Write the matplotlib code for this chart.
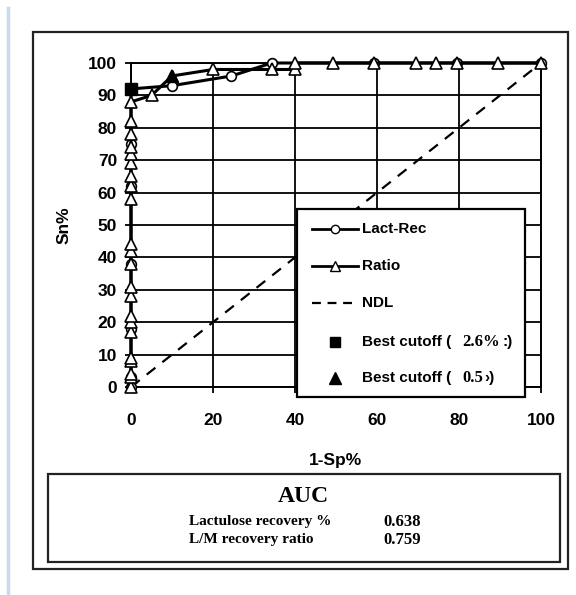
import numpy as np
import matplotlib.pyplot as plt
from matplotlib.patches import Rectangle
from matplotlib.lines import Line2D

# ROC points (1-Sp%, Sn%)
lact_x=[0,0,0,0,0,0,0,10,24.5,34.3,59.3,79.4,100]
lact_y=[0,3,18,38,62,75,92,93,96,100,100,100,100]
ratio_x=[0]*22+[5,10,20,34.5,40,40,49.3,59.3,69.5,74.5,79.4,89.5,100]
ratio_y=[0,3,4,8,9,17,20,22,28,31,38,42,44,58,62,65,69,72,74,78,82,88,
         90,96,98,98,98,100,100,100,100,100,100,100,100]
ndl=[0,100]
best_lact=(0,92)
best_ratio=(10,96)
auc_names=['Lactulose recovery %','L/M recovery ratio']
auc_vals=['0.638','0.759']

W,H=576,595
fig=plt.figure(figsize=(W/100,H/100),dpi=100)
def fx(px): return px/W
def fy(py): return 1-py/H

sans=['Liberation Sans','DejaVu Sans']
serif=['Liberation Serif','DejaVu Serif']

# scan edge + outer frame
fig.add_artist(Line2D([fx(8),fx(8)],[fy(8),0],color='#c9d9ef',lw=2.5))
fig.add_artist(Rectangle((fx(33),fy(569)),fx(535),(569-32)/H,fill=False,ec='#222',lw=1.6))

ax=fig.add_axes([fx(131),fy(387),fx(410),(387-63)/H])
ax.plot(ndl,ndl,'--',color='k',lw=1.6,dashes=(5,4))
ax.plot(lact_x,lact_y,'-o',color='k',lw=2.2,ms=7,mfc='white',mec='k',mew=1.2,clip_on=False,zorder=3)
ax.plot(ratio_x,ratio_y,'-^',color='k',lw=2.2,ms=8,mfc='white',mec='k',mew=1.2,clip_on=False,zorder=4)
ax.plot(*best_lact,'s',color='k',ms=8,clip_on=False,zorder=5)
ax.plot(*best_ratio,'^',color='k',ms=9,clip_on=False,zorder=5)
ax.set_xlim(0,100)
ax.set_ylim(0,100)
ax.set_xticks(np.arange(0,101,20))
ax.set_yticks(np.arange(0,101,10))
ax.grid(color='k',lw=1.3)
ax.set_axisbelow(True)
for sp in ax.spines.values():
  sp.set_linewidth(1.4)
ax.tick_params(direction='out',length=4,width=1.3,labelsize=12.5)
ax.tick_params(axis='x',pad=14.5)
ax.tick_params(axis='y',pad=6)
for lab in ax.get_xticklabels()+ax.get_yticklabels():
  lab.set_fontweight('bold'); lab.set_family(sans)
ax.set_xlabel('1-Sp%',fontsize=12.5,fontweight='bold',family=sans,labelpad=18)
ax.set_ylabel('Sn%',fontsize=12.5,fontweight='bold',family=sans,labelpad=12)

# legend drawn by hand to mimic the scanned box
fig.add_artist(Rectangle((fx(297),fy(397)),fx(228),(397-209)/H,fc='white',ec='k',lw=1.6,zorder=6))
rows=[229,266,303,342,378]
tkw=dict(fontsize=11,fontweight='bold',family=sans,va='center',zorder=7)
def hline(py,**kw):
  fig.add_artist(Line2D([fx(312),fx(358)],[fy(py),fy(py)],color='k',zorder=7,**kw))
hline(rows[0],lw=2)
fig.add_artist(Line2D([fx(335)],[fy(rows[0])],marker='o',ms=6,mfc='white',mec='k',zorder=8))
hline(rows[1],lw=2)
fig.add_artist(Line2D([fx(335)],[fy(rows[1])],marker='^',ms=7,mfc='white',mec='k',zorder=8))
hline(rows[2],lw=1.6,ls='--',dashes=(4,3))
fig.add_artist(Line2D([fx(335)],[fy(rows[3])],marker='s',ms=7,color='k',zorder=8))
fig.add_artist(Line2D([fx(335)],[fy(rows[4])],marker='^',ms=8,color='k',zorder=8))
fig.text(fx(362),fy(rows[0]),'Lact-Rec',**tkw)
fig.text(fx(362),fy(rows[1]),'Ratio',**tkw)
fig.text(fx(362),fy(rows[2]),'NDL',**tkw)
fig.text(fx(362),fy(rows[3]),'Best cutoff (',**tkw)
fig.text(fx(362),fy(rows[4]),'Best cutoff (',**tkw)
fig.text(fx(462),fy(rows[3]),'2.6%',fontsize=12,fontweight='bold',family=serif,va='center',zorder=7)
fig.text(fx(503),fy(rows[3]),':)',**tkw)
fig.text(fx(462),fy(rows[4]),'0.5',fontsize=12,fontweight='bold',family=serif,va='center',zorder=7)
fig.text(fx(484),fy(rows[4]),'\u203a)',**tkw)

# AUC box
fig.add_artist(Rectangle((fx(48),fy(562)),fx(512),(562-474)/H,fill=False,ec='#222',lw=1.6))
fig.text(fx(303),fy(497),'AUC',fontsize=17,fontweight='bold',family=serif,ha='center',va='center')
for i,(n,v) in enumerate(zip(auc_names,auc_vals)):
  py=522+18*i
  fig.text(fx(189),fy(py),n,fontsize=11,fontweight='bold',family=serif,va='center')
  fig.text(fx(383),fy(py),v,fontsize=12,fontweight='bold',family=serif,va='center')

fig.savefig('out.png',dpi=100)
